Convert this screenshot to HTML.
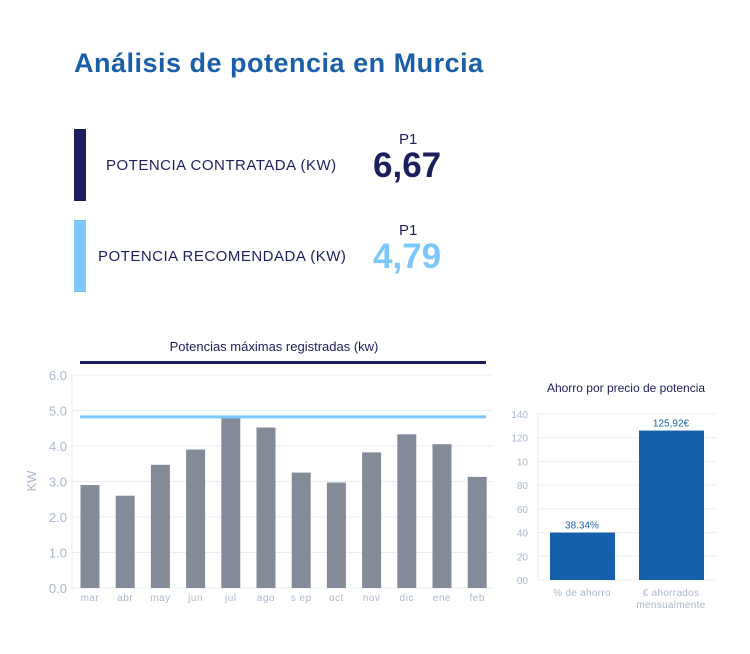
<!DOCTYPE html>
<html><head><meta charset="utf-8"><style>
body{margin:0;width:750px;height:654px;background:#fff;font-family:"Liberation Sans","DejaVu Sans",sans-serif;overflow:hidden;position:relative}
.a{position:absolute}
</style></head><body>
<div class="a" style="left:74px;top:48px;font-size:27px;font-weight:bold;color:#1a5fa8;letter-spacing:0.5px">Análisis de potencia en Murcia</div>
<div class="a" style="left:74px;top:129px;width:12px;height:72px;background:#1c1f5e"></div>
<div class="a" style="left:106px;top:157px;font-size:15px;color:#1c1f5e;letter-spacing:0.5px">POTENCIA CONTRATADA (KW)</div>
<div class="a" style="left:399px;top:131px;font-size:15px;color:#1c1f5e">P1</div>
<div class="a" style="left:373px;top:146px;font-size:35px;font-weight:bold;color:#1c1f5e">6,67</div>
<div class="a" style="left:74px;top:220px;width:12px;height:72px;background:#7cc7fb"></div>
<div class="a" style="left:98px;top:248px;font-size:15px;color:#1c1f5e;letter-spacing:0.5px">POTENCIA RECOMENDADA (KW)</div>
<div class="a" style="left:399px;top:222px;font-size:15px;color:#1c1f5e">P1</div>
<div class="a" style="left:373px;top:237px;font-size:35px;font-weight:bold;color:#7cc7fb">4,79</div>
<svg class="a" style="left:0;top:0" width="750" height="654" id="svg"></svg>
<script>
const months=["mar","abr","may","jun","jul","ago","s ep","oct","nov","dic","ene","feb"];
const kw=[2.9,2.6,3.47,3.9,4.78,4.52,3.25,2.97,3.82,4.33,4.05,3.13];
const leftTicks=[0,1,2,3,4,5,6];
const recommended=[4.82];
const savCats=[["% de ahorro"],["€ ahorrados","mensualmente"]];
const savVals=[40,126];
const savLabels=["38.34%","125,92€"];
const savTicks=[0,20,40,60,80,100,120,140];
const savTickText=["00","20","40","60","80","10","120","140"];
const NS="http://www.w3.org/2000/svg",svg=document.getElementById('svg');
function mk(t,a,txt){const e=document.createElementNS(NS,t);for(const k in a)e.setAttribute(k,a[k]);if(txt!=null)e.textContent=txt;svg.appendChild(e);return e;}
// left chart
const y1=v=>588-v*35.5, x1=i=>90+i*35.2;
let e=mk('text',{x:274,y:351,'font-size':13,fill:'#1c1f5e','text-anchor':'middle'},'Potencias máximas registradas (kw)');


e=mk('rect',{x:80,y:361,width:406,height:3,fill:'#1c1f5e'});


leftTicks.forEach(t=>{
 e=mk('line',{x1:72,x2:493,y1:y1(t),y2:y1(t),stroke:'#e8edf3'});
 
 
 e=mk('text',{x:67,y:y1(t)+5,'font-size':13,fill:'#a9b8cc','text-anchor':'end'},t.toFixed(1));
 
 
});
mk('line',{x1:72,x2:72,y1:375,y2:588,stroke:'#e8edf3'});
e=mk('text',{x:36,y:481,'font-size':13,fill:'#a9b8cc','text-anchor':'middle',transform:'rotate(-90 36 481)'},'KW');


kw.forEach((v,i)=>{
 e=mk('rect',{x:x1(i)-9.5,y:y1(v),width:19,height:588-y1(v),fill:'#828b97'});
 
 
 e=mk('text',{x:x1(i),y:601,'font-size':10,fill:'#a9b8cc','text-anchor':'middle','letter-spacing':'0.5'},months[i]);
 
 
});
e=mk('rect',{x:80,y:y1(recommended[0])-1.5,width:406,height:3,fill:'#7cc7fb'});


// right chart
const y2=v=>580-v*1.186, x2=i=>582+i*89;
e=mk('text',{x:626,y:392,'font-size':12,fill:'#1c1f5e','text-anchor':'middle'},'Ahorro por precio de potencia');


savTicks.forEach((t,i)=>{
 e=mk('line',{x1:538,x2:716,y1:y2(t),y2:y2(t),stroke:'#e8edf3'});
 
 
 e=mk('text',{x:528,y:y2(t)+4,'font-size':10,fill:'#a9b8cc','text-anchor':'end'},savTickText[i]);
 
 
});
mk('line',{x1:538,x2:538,y1:414,y2:580,stroke:'#e8edf3'});
savVals.forEach((v,i)=>{
 e=mk('rect',{x:x2(i)-32,y:y2(v),width:65,height:580-y2(v),fill:'#1660ab'});
 
 
 e=mk('text',{x:x2(i),y:y2(v)-4,'font-size':10,fill:'#1660ab','text-anchor':'middle'},savLabels[i]);
 
 
 savCats[i].forEach((l,j)=>{
  e=mk('text',{x:x2(i),y:596+j*12,'font-size':10,fill:'#a9b8cc','text-anchor':'middle','letter-spacing':'0.3'},l);
  
  
 });
});
</script>
</body></html>
